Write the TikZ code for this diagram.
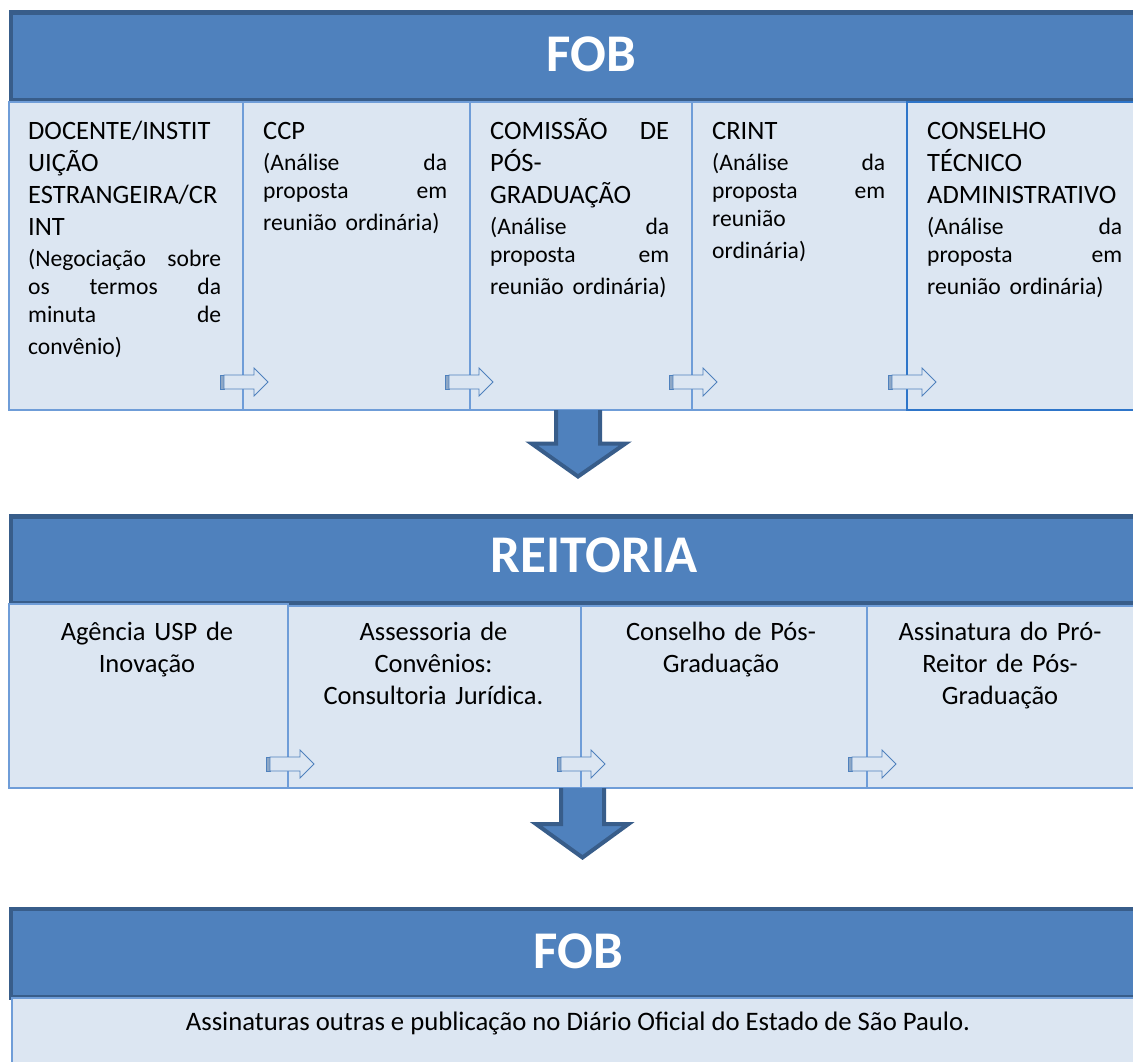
\documentclass[tikz,border=0pt]{standalone}
\usepackage{fontspec}
\setmainfont{Carlito}
\definecolor{hdrfill}{HTML}{4F81BD}
\definecolor{hdrdraw}{HTML}{385D8A}
\definecolor{boxfill}{HTML}{DCE6F2}
\definecolor{boxdraw}{HTML}{6F9DD8}
\definecolor{boxdrawdark}{HTML}{2E75C9}
\definecolor{stripecol}{HTML}{8DA7C6}
\definecolor{arrowedge}{HTML}{4F81BD}
\newcommand{\pfont}{\vspace{2.5pt}\fontsize{23.6}{28.4}\selectfont}
\newcommand{\tstrut}{\rule{0pt}{24pt}}
\tikzset{
  hdr/.style={draw=hdrdraw, fill=hdrfill, line width=4.5pt, anchor=north west, inner sep=0pt, rectangle},
  hdrtext/.style={anchor=base, inner sep=0pt, text=white, font=\bfseries\fontsize{53}{60}\selectfont},
  stagebox/.style={draw=boxdraw, fill=boxfill, line width=2pt, anchor=north west, inner sep=0pt, rectangle},
  lefttext/.style={anchor=north west, inner sep=0pt, align=left, font=\fontsize{26.5}{32}\selectfont},
  centertext/.style={anchor=north, inner sep=0pt, align=center, text width=275pt, font=\fontsize{26.5}{32}\selectfont},
  bigarrow/.style={fill=hdrfill, draw=hdrdraw, line width=4pt, line join=miter},
  sarrow/.pic={
    \filldraw[fill=stripecol, draw=arrowedge, line width=0.6pt] (0,-7) rectangle (4,7);
    \filldraw[fill=boxfill, draw=arrowedge, line width=0.8pt]
      (4,-7) -- (34,-7) -- (34,-14) -- (48,0) -- (34,14) -- (34,7) -- (4,7) -- cycle;
  }
}
\begin{document}
\begin{tikzpicture}[x=1pt,y=-1pt]
\clip (0,0) rectangle (1133,1062);
\fill[white] (0,0) rectangle (1133,1062);

% ---------- first FOB block ----------
\node[hdr, minimum width=1151.5pt, minimum height=88pt] (h1) at (8.5,10.5) {};
\node[hdrtext] (h1t) at (591.5,72) {FOB};

\node[stagebox, minimum width=234pt, minimum height=308pt] (b1) at (8,101) {};
\node[stagebox, minimum width=227pt, minimum height=308pt] (b2) at (242,101) {};
\node[stagebox, minimum width=222pt, minimum height=308pt] (b3) at (469,101) {};
\node[stagebox, minimum width=215pt, minimum height=308pt] (b4) at (691,101) {};
\node[stagebox, draw=boxdrawdark, minimum width=260pt, minimum height=308pt] (b5) at (906,101) {};

\node[lefttext, text width=193pt] (t1) at (28,115) {\tstrut DOCENTE/INSTIT\\UIÇÃO\\ESTRANGEIRA/CR\\INT\par
  \pfont (Negociação\hfill sobre\\os\hfill termos\hfill da\\minuta\hfill de\\convênio)};
\node[lefttext, text width=184pt] (t2) at (263,115) {\tstrut CCP\par
  \pfont (Análise\hfill da\\proposta\hfill em\\\mbox{reunião ordinária)}};
\node[lefttext, text width=179pt] (t3) at (490,115) {\tstrut COMISSÃO\hfill DE\\PÓS-\\GRADUAÇÃO\par
  \pfont (Análise\hfill da\\proposta\hfill em\\\mbox{reunião ordinária)}};
\node[lefttext, text width=173pt] (t4) at (712,115) {\tstrut CRINT\par
  \pfont (Análise\hfill da\\proposta\hfill em\\reunião\\ordinária)};
\node[lefttext, text width=195pt] (t5) at (927,115) {\tstrut CONSELHO\\TÉCNICO\\ADMINISTRATIVO\par
  \pfont (Análise\hfill da\\proposta\hfill em\\\mbox{reunião ordinária)}};

\pic at (220,382) {sarrow};
\pic at (445,382) {sarrow};
\pic at (669,382) {sarrow};
\pic at (888,382) {sarrow};

% big arrow 1
\filldraw[bigarrow] (556,410) -- (556,443.5) -- (531.5,443.5) -- (578,476.5) -- (625.5,443.5) -- (600,443.5) -- (600,410);

% ---------- REITORIA block ----------
\node[hdr, minimum width=1151.5pt, minimum height=86.5pt] (h2) at (8.5,514) {};
\node[hdrtext] (h2t) at (594,572) {REITORIA};

\node[stagebox, minimum width=279pt, minimum height=184pt] (r1) at (8,603) {};
\node[stagebox, minimum width=293pt, minimum height=182pt] (r2) at (287,605) {};
\node[stagebox, minimum width=286pt, minimum height=182pt] (r3) at (580,605) {};
\node[stagebox, minimum width=290pt, minimum height=182pt] (r4) at (866,605) {};

\node[centertext] (rt1) at (147,616) {\tstrut Agência USP de\\Inovação};
\node[centertext] (rt2) at (433.5,616) {\tstrut Assessoria de\\Convênios:\\Consultoria Jurídica.};
\node[centertext] (rt3) at (721,616) {\tstrut Conselho de Pós-\\Graduação};
\node[centertext] (rt4) at (1000,616) {\tstrut Assinatura do Pró-\\Reitor de Pós-\\Graduação};

\pic at (266,764) {sarrow};
\pic at (557,764) {sarrow};
\pic at (848,764) {sarrow};

% big arrow 2
\filldraw[bigarrow] (561,788) -- (561,824) -- (536,824) -- (582.5,857.5) -- (628.5,824) -- (604,824) -- (604,788);

% ---------- final FOB block ----------
\node[hdr, minimum width=1151.5pt, minimum height=88.5pt] (h3) at (8.5,906.5) {};
\node[hdrtext] (h3t) at (578.5,968) {FOB};
\node[stagebox, minimum width=1150pt, minimum height=80pt] (f1) at (11,997) {};
\node[anchor=base, inner sep=0pt, font=\fontsize{26.7}{32}\selectfont] (ft) at (578,1030)
  {Assinaturas outras e publicação no Diário Oficial do Estado de São Paulo.};
\end{tikzpicture}
\end{document}
